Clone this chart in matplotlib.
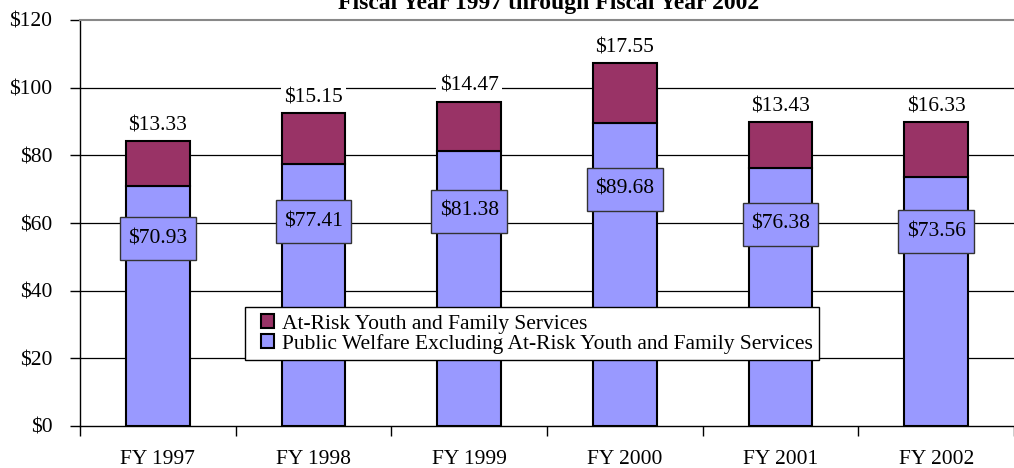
import matplotlib
matplotlib.use("Agg")
import matplotlib.pyplot as plt
from matplotlib.patches import Rectangle
from matplotlib.legend_handler import HandlerPatch
import numpy as np

categories = ["FY 1997", "FY 1998", "FY 1999", "FY 2000", "FY 2001", "FY 2002"]
public_welfare = [70.93, 77.41, 81.38, 89.68, 76.38, 73.56]
at_risk = [13.33, 15.15, 14.47, 17.55, 13.43, 16.33]
yticks = [0, 20, 40, 60, 80, 100, 120]
ytick_labels = ["$0", "$20", "$40", "$60", "$80", "$100", "$120"]
title = "Fiscal Year 1997 through Fiscal Year 2002"
legend_labels = ["At-Risk Youth and Family Services",
                 "Public Welfare Excluding At-Risk Youth and Family Services"]

plt.rcParams['font.family'] = ['Liberation Serif', 'DejaVu Serif']

blue = "#9999FF"
maroon = "#993366"
FS = 15.5

fig = plt.figure(figsize=(10.14, 4.68), dpi=100)
ax = fig.add_axes([80/1014, 1 - 426/468, 1 - 80/1014, (426 - 20)/468])

x = np.arange(len(categories))
b1 = ax.bar(x, public_welfare, width=0.41, color=blue, edgecolor="black", linewidth=1.5, zorder=3,
            label=legend_labels[1])
b2 = ax.bar(x, at_risk, bottom=public_welfare, width=0.41, color=maroon, edgecolor="black",
            linewidth=1.5, zorder=3, label=legend_labels[0])

ax.set_xlim(-0.5, len(categories) - 0.5)
ax.set_ylim(0, 120)

for yv in yticks[1:-1]:
    ax.axhline(yv, color="black", linewidth=0.9, zorder=1)

ax.set_yticks(yticks)
ax.set_yticklabels(ytick_labels, fontsize=FS)
ax.tick_params(axis='y', direction='out', length=7, width=1, pad=13)

ax.set_xticks(x)
ax.set_xticklabels(categories, fontsize=FS)
ax.tick_params(axis='x', which='major', length=0, pad=17)
ax.set_xticks(np.arange(-0.5, len(categories), 1.0), minor=True)
ax.tick_params(axis='x', which='minor', direction='out', length=7, width=1)

ax.spines['top'].set_color("#888888")
ax.spines['top'].set_linewidth(1.5)
ax.spines['right'].set_visible(False)
ax.spines['left'].set_linewidth(1)
ax.spines['bottom'].set_linewidth(1)

box_w = 0.488
box_h = 12.7
for i in range(len(categories)):
    total = public_welfare[i] + at_risk[i]
    ax.annotate(f"${at_risk[i]:.2f}", (x[i], total), xytext=(0, 11), textcoords="offset points",
                ha="center", va="center", fontsize=FS, zorder=4,
                bbox=dict(boxstyle="square,pad=0.15", facecolor="white", edgecolor="none"))
    yc = public_welfare[i] * 0.78
    ax.add_patch(Rectangle((x[i] - box_w / 2, yc - box_h / 2), box_w, box_h, facecolor=blue,
                           edgecolor="#333333", linewidth=1, zorder=5))
    ax.text(x[i], yc, f"${public_welfare[i]:.2f}", ha="center", va="center",
            fontsize=FS, zorder=6)


def square_handle(legend, orig_handle, xdescent, ydescent, width, height, fontsize):
    sq = height * 0.9
    return Rectangle((-xdescent + width - sq, -ydescent + (height - sq) / 2), sq, sq)


leg = ax.legend(handles=[b2[0], b1[0]], labels=legend_labels, loc="upper left",
                bbox_to_anchor=((245 - 80) / 934, 1 - (307 - 20) / 406),
                fontsize=FS, frameon=True, fancybox=False, shadow=False, framealpha=1,
                handlelength=1.05, handleheight=0.7, handletextpad=0.35,
                borderpad=0.3, labelspacing=0.0, borderaxespad=0,
                handler_map={Rectangle: HandlerPatch(patch_func=square_handle)})
leg.get_frame().set_edgecolor("black")
leg.get_frame().set_linewidth(1)
leg.set_zorder(7)

fig.text(549 / 1014, 1 - 9 / 468, title, ha="center", va="baseline", fontsize=17, fontweight="bold")

fig.savefig("out.png", dpi=100)
